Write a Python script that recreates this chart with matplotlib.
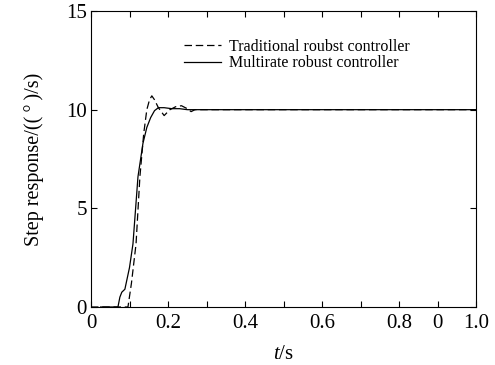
import numpy as np
import matplotlib.pyplot as plt

plt.rcParams['font.family'] = ['Liberation Serif', 'DejaVu Serif']
plt.rcParams['mathtext.fontset'] = 'custom'
plt.rcParams['mathtext.rm'] = 'Liberation Serif'
plt.rcParams['mathtext.it'] = 'Liberation Serif:italic'

# --- データ ---
t_trad = [0.0, 0.096, 0.105, 0.117, 0.127, 0.137, 0.145, 0.152, 0.158, 0.165,
          0.175, 0.19, 0.205, 0.22, 0.235, 0.25, 0.26, 0.27, 0.3, 1.0]
y_trad = [0.0, 0.0, 1.2, 3.2, 6.6, 8.8, 10.0, 10.5, 10.7, 10.5,
          10.1, 9.7, 10.0, 10.15, 10.2, 10.05, 9.9, 10.0, 10.0, 10.0]

t_multi = [0.025, 0.07, 0.075, 0.08, 0.088, 0.1, 0.109, 0.122, 0.135, 0.145,
           0.155, 0.165, 0.175, 0.19, 0.21, 0.23, 0.25, 1.0]
y_multi = [0.0, 0.0, 0.5, 0.75, 0.9, 2.0, 3.2, 6.6, 8.3, 9.1,
           9.6, 9.95, 10.1, 10.1, 10.05, 10.05, 10.0, 10.0]

xtick_pos = [0.0, 0.1, 0.2, 0.3, 0.4, 0.5, 0.6, 0.7, 0.8, 0.9, 1.0]
xtick_lab = ['0', '', '0.2', '', '0.4', '', '0.6', '', '0.8', '0', '1.0']
ytick_pos = [0, 5, 10, 15]

fig = plt.figure(figsize=(4.95, 3.65), dpi=100)
ax = fig.add_axes([91 / 495, 1 - 307 / 365, 385 / 495, 296 / 365])

ax.plot(t_trad, y_trad, color='black', linestyle=(0, (6, 3)), linewidth=0.9,
        label='Traditional roubst controller')
ax.plot(t_multi, y_multi, color='black', linestyle='-', linewidth=0.9,
        label='Multirate robust controller')

ax.set_xlim(0, 1.0)
ax.set_ylim(0, 15)
ax.set_xticks(xtick_pos)
ax.set_xticklabels(xtick_lab)
ax.set_yticks(ytick_pos)
ax.tick_params(direction='in', length=4, width=0.8, top=True, right=True,
               labelsize=15)
ax.tick_params(axis='x', pad=5)
ax.tick_params(axis='y', pad=3)
for s in ax.spines.values():
    s.set_linewidth(0.8)

ax.set_xlabel(r'$\mathit{t}$/s', fontsize=15, labelpad=9)
ax.set_ylabel('Step response/((\u2009°\u2009)/s)', fontsize=14.5, labelpad=16)

ax.legend(loc='upper center', bbox_to_anchor=(0.535, 0.955), frameon=False,
          fontsize=11.5, handlelength=2.3, handletextpad=0.5, labelspacing=0.05)

fig.savefig('out.png', dpi=100)
